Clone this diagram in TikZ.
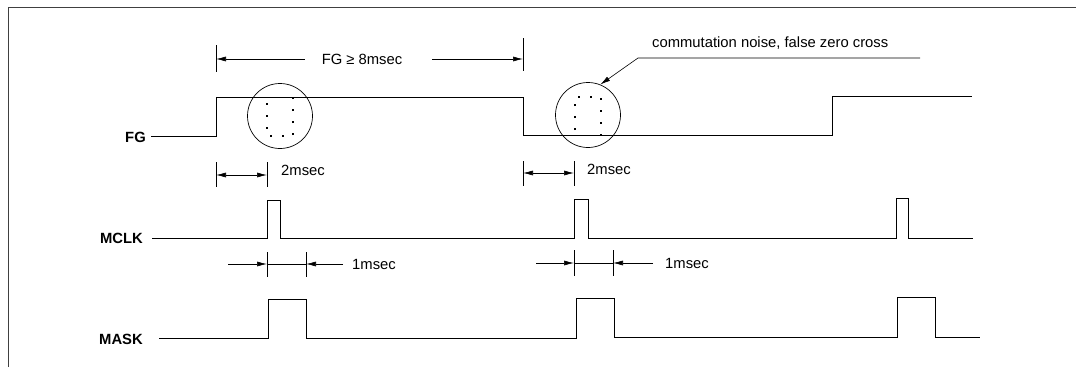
\documentclass[tikz,border=0pt]{standalone}
\usepackage{fontspec}
\setmainfont{Liberation Sans}
\usetikzlibrary{arrows.meta}
\begin{document}
\begin{tikzpicture}[x=1pt,y=-1pt]
  \tikzstyle{every node}=[font=\fontsize{14.8}{17}\selectfont, text=black, inner sep=0pt]
  \tikzstyle{sig}=[black, line width=1pt]
  \tikzstyle{dim}=[black, line width=0.6pt]
  \tikzstyle{tick}=[black, line width=0.8pt]
  \tikzstyle{tip}=[dim, -{Latex[length=10pt,width=5pt]}]
  \tikzstyle{tips}=[dim, {Latex[length=10pt,width=5pt]}-{Latex[length=10pt,width=5pt]}]
  \tikzstyle{signame}=[anchor=east, font=\fontsize{14.8}{17}\selectfont\bfseries]
  \tikzstyle{spot}=[circle, draw=black, line width=0.7pt, minimum size=65pt]
  \tikzstyle{glitch}=[black, line width=1.2pt, dash pattern=on 2pt off 10pt, dash phase=-5pt]

  \useasboundingbox (0,0) rectangle (1076,367);
  \draw[line width=0.6pt, black!75] (8,367) -- (8,7) -- (1076,7);

  % signal names
  \node[signame] (fg) at (146,137) {FG};
  \node[signame] (mclk) at (143,238) {MCLK};
  \node[signame] (mask) at (143,339) {MASK};

  % waveforms
  \draw[sig] (fg.east) ++(5,-1) -| (216,97) -| (523,135) -| (832,96) -- (972,96);
  \draw[sig] (152,238) -| (267,200) -| (280,238) -| (574,199) -| (588,238)
    -| (896,198) -| (908,238) -- (973,238);
  \draw[sig] (159,338) -| (268,299) -| (306,338) -| (576,298) -| (614,337)
    -| (897,297) -| (935,337) -- (980,337);

  % noise spots
  \node[spot] (spot1) at (280,116) {};
  \node[spot] (spot2) at (588,115) {};
  \draw[glitch] (267,98) |- (293,136) -- (293,98);
  \draw[glitch] (575,135) |- (601,97) -- (601,135);

  % FG >= 8msec
  \draw[tick] (216,45) -- (216,72);
  \draw[tick] (523,38) -- (523,71);
  \node (fgmin) at (362,59) {FG ≥ 8msec};
  \draw[tip] ([xshift=-17pt]fgmin.west) -- (216,59);
  \draw[tip] ([xshift=30pt]fgmin.east) -- (523,59);

  % 2msec
  \draw[tick] (216,162) -- (216,187);
  \draw[tick] (267,162) -- (267,187);
  \draw[tips] (216,175) -- (267,175);
  \node[anchor=west] (delay1) at (281,170) {2msec};
  \draw[tick] (523,161) -- (523,186);
  \draw[tick] (574,161) -- (574,186);
  \draw[tips] (523,173) -- (574,173);
  \node[anchor=west] (delay2) at (587,169) {2msec};

  % 1msec
  \draw[tick] (267,252) -- (267,277);
  \draw[tick] (306,252) -- (306,277);
  \draw[dim, line width=0.4pt] (267,264) -- (306,264);
  \draw[tip] (228,264) -- (267,264);
  \draw[tip] (343,264) -- (306,264);
  \node[anchor=west] (width1) at (352,264) {1msec};
  \draw[tick] (574,250) -- (574,276);
  \draw[tick] (613,250) -- (613,276);
  \draw[dim, line width=0.4pt] (574,263) -- (613,263);
  \draw[tip] (536,263) -- (574,263);
  \draw[tip] (653,263) -- (613,263);
  \node[anchor=west] (width2) at (665,263) {1msec};

  % callout
  \node[anchor=west] (note) at (652,43) {commutation noise, false zero cross};
  \draw[tip] (920,58) -- (638,58) -- (spot2.68);
\end{tikzpicture}
\end{document}
